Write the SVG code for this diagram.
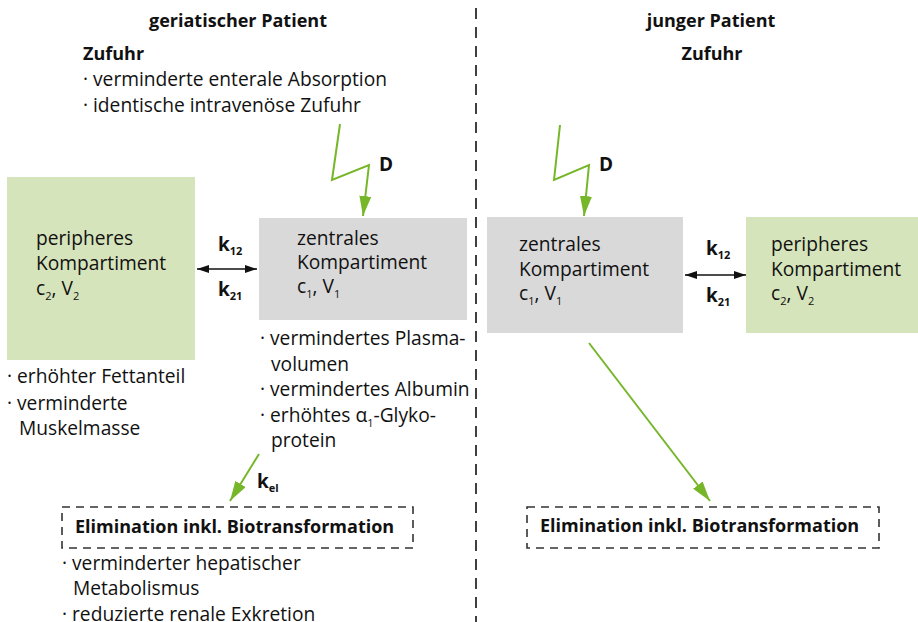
<svg xmlns="http://www.w3.org/2000/svg" width="918" height="622" viewBox="0 0 918 622">
  <style>
    text { font-family: "Open Sans", "Noto Sans", "Liberation Sans", sans-serif; fill: #111; }
    .t { font-size: 19.2px; }
    .b { font-size: 18px; font-weight: bold; }
    .k { font-size: 19px; font-weight: bold; }
    .ks { font-size: 11px; font-weight: bold; }
    .s { font-size: 11px; }
    .periph { fill: #d6e4bb; }
    .central { fill: #d9d9d9; }
    .elim { fill: none; stroke: #333; stroke-width: 1.6; stroke-dasharray: 8 6; }
    .green { fill: none; stroke: #76b72a; stroke-width: 2; }
    .swap { stroke: #111; stroke-width: 1.6; }
    .divider { stroke: #111; stroke-width: 1.6; stroke-dasharray: 11 8; }
  </style>
  <defs>
    <marker id="gHead" viewBox="0 0 20 12" refX="20" refY="6" markerWidth="20" markerHeight="12" markerUnits="userSpaceOnUse" orient="auto">
      <path d="M0,0 L20,6 L0,12 Z" fill="#76b72a"/>
    </marker>
    <marker id="kHead" viewBox="0 0 12 8" refX="12" refY="4" markerWidth="12" markerHeight="8" markerUnits="userSpaceOnUse" orient="auto-start-reverse">
      <path d="M0,0 L12,4 L0,8 Z" fill="#111"/>
    </marker>
  </defs>

  <!-- divider between the two patient columns -->
  <line class="divider" x1="476" y1="8" x2="476" y2="622"/>

  <!-- column headings -->
  <g id="heading-geriatric">
    <text class="b" x="238" y="27" text-anchor="middle">geriatischer Patient</text>
  </g>
  <g id="heading-young">
    <text class="b" x="711" y="27" text-anchor="middle">junger Patient</text>
    <text class="b" x="712" y="60" text-anchor="middle">Zufuhr</text>
  </g>

  <!-- intake notes, geriatric -->
  <g id="intake-geriatric">
    <text class="b" x="83" y="60">Zufuhr</text>
    <text class="t" x="83" y="86">· verminderte enterale Absorption</text>
    <text class="t" x="83" y="112">· identische intravenöse Zufuhr</text>
  </g>

  <!-- geriatric: peripheral compartment -->
  <g id="periph-geriatric">
    <rect class="periph" x="7" y="177" width="188" height="183"/>
    <text class="t" x="36" y="245">peripheres</text>
    <text class="t" x="36" y="270">Kompartiment</text>
    <text class="t" x="36" y="295">c<tspan class="s" dy="5">2</tspan><tspan dy="-5">, V</tspan><tspan class="s" dy="5">2</tspan></text>
    <text class="t" x="7" y="383">· erhöhter Fettanteil</text>
    <text class="t" x="7" y="410">· verminderte</text>
    <text class="t" x="19" y="435">Muskelmasse</text>
  </g>

  <!-- geriatric: central compartment -->
  <g id="central-geriatric">
    <rect class="central" x="259" y="218" width="208" height="102"/>
    <text class="t" x="297" y="245">zentrales</text>
    <text class="t" x="297" y="269">Kompartiment</text>
    <text class="t" x="297" y="293">c<tspan class="s" dy="5">1</tspan><tspan dy="-5">, V</tspan><tspan class="s" dy="5">1</tspan></text>
    <text class="t" x="260" y="345">· vermindertes Plasma-</text>
    <text class="t" x="271" y="371">volumen</text>
    <text class="t" x="260" y="396">· vermindertes Albumin</text>
    <text class="t" x="260" y="422">· erhöhtes α<tspan class="s" dy="5">1</tspan><tspan dy="-5">-Glyko-</tspan></text>
    <text class="t" x="271" y="447">protein</text>
  </g>

  <!-- geriatric: elimination -->
  <g id="elim-geriatric">
    <rect class="elim" x="62" y="507" width="351" height="41"/>
    <text class="b" x="75" y="533">Elimination inkl. Biotransformation</text>
    <text class="t" x="62" y="570">· verminderter hepatischer</text>
    <text class="t" x="73" y="595">Metabolismus</text>
    <text class="t" x="62" y="621">· reduzierte renale Exkretion</text>
  </g>

  <!-- young: central compartment -->
  <g id="central-young">
    <rect class="central" x="487" y="217" width="196" height="116"/>
    <text class="t" x="519" y="251">zentrales</text>
    <text class="t" x="519" y="276">Kompartiment</text>
    <text class="t" x="519" y="300">c<tspan class="s" dy="5">1</tspan><tspan dy="-5">, V</tspan><tspan class="s" dy="5">1</tspan></text>
  </g>

  <!-- young: peripheral compartment -->
  <g id="periph-young">
    <rect class="periph" x="746" y="217" width="172" height="116"/>
    <text class="t" x="771" y="251">peripheres</text>
    <text class="t" x="771" y="276">Kompartiment</text>
    <text class="t" x="771" y="300">c<tspan class="s" dy="5">2</tspan><tspan dy="-5">, V</tspan><tspan class="s" dy="5">2</tspan></text>
  </g>

  <!-- young: elimination -->
  <g id="elim-young">
    <rect class="elim" x="527" y="507" width="352" height="41"/>
    <text class="b" x="540" y="532">Elimination inkl. Biotransformation</text>
  </g>

  <!-- connectors -->
  <g id="connectors">
    <!-- dose input (zigzag) -->
    <polyline class="green" points="340,124 332,180 369,165 363,216" marker-end="url(#gHead)"/>
    <polyline class="green" points="560,125 554,180 589,165 584,216" marker-end="url(#gHead)"/>
    <!-- exchange between compartments -->
    <line class="swap" x1="197" y1="269" x2="257" y2="269" marker-start="url(#kHead)" marker-end="url(#kHead)"/>
    <line class="swap" x1="685" y1="275" x2="746" y2="275" marker-start="url(#kHead)" marker-end="url(#kHead)"/>
    <!-- elimination -->
    <line class="green" x1="259" y1="454" x2="230" y2="501" marker-end="url(#gHead)"/>
    <line class="green" x1="589" y1="343" x2="710" y2="501" marker-end="url(#gHead)"/>
  </g>

  <!-- rate labels -->
  <g id="labels">
    <text class="k" x="379" y="171">D</text>
    <text class="k" x="599" y="171">D</text>
    <text class="k" x="218" y="251">k<tspan class="ks" dy="4">12</tspan></text>
    <text class="k" x="218" y="296">k<tspan class="ks" dy="4">21</tspan></text>
    <text class="k" x="706" y="255">k<tspan class="ks" dy="4">12</tspan></text>
    <text class="k" x="706" y="302">k<tspan class="ks" dy="4">21</tspan></text>
    <text class="k" x="257" y="488">k<tspan class="ks" dy="4">el</tspan></text>
  </g>
</svg>
